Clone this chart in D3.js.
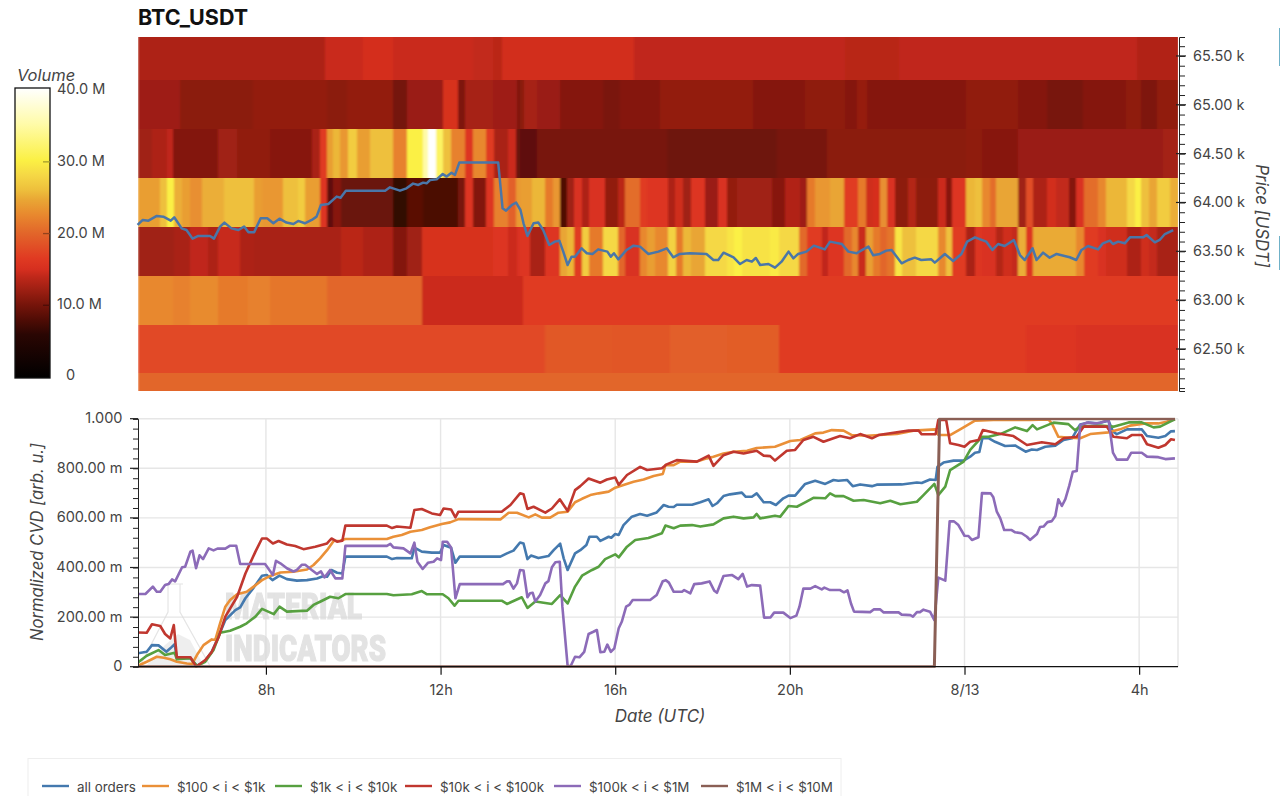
<!DOCTYPE html>
<html>
<head>
<meta charset="utf-8">
<script src="https://cdn.jsdelivr.net/npm/d3@7"></script>
<style>
html, body { margin: 0; padding: 0; background: #fff; overflow: hidden; }
text { font-family: Inter, Roboto, sans-serif; }
</style>
</head>
<body>
<div id="chart"></div>
<script>
// [hour since 8/12 00:00, volume in M] - each pair starts a run that lasts till the next one
const row65500 = [[5.07,13],[9.35,14.4],[10.23,14.9],[10.92,14.4],[12.75,14.1],[13.21,13.7],[13.4,14.8],[16.42,14],[21.26,13.6],[22.5,14],[27.94,13.2]];
const row65000 = [[5.07,12.2],[6.03,11.2],[7.71,11.6],[9.39,11.2],[9.85,11.6],[10.92,10],[11.22,12],[12.06,15.2],[12.4,10.5],[12.56,12.6],[13.21,12.2],[13.74,10.6],[13.82,11.2],[13.9,12.6],[14.2,12],[14.74,10.9],[15.73,10.3],[16.11,10.9],[17.03,11.6],[19.16,10.9],[20.35,11.4],[21.26,10.9],[21.53,11.8],[21.76,10.9],[24.04,11.5],[25.23,10.9],[25.88,10.2],[26.72,10.9],[27.71,11.4],[28.05,10.5],[28.4,11.5]];
const row64500 = [[5.07,12.3],[5.38,13],[5.73,14],[5.88,10.8],[6.91,12.3],[7.33,11.5],[8.09,11],[9.05,12.8],[9.24,16.5],[9.39,24],[9.54,25.5],[9.69,23.5],[9.89,27],[10.08,24],[10.38,26],[10.92,22],[11.22,30],[11.59,35],[11.72,40],[11.89,31.5],[12.06,26],[12.23,22],[12.56,16],[12.75,22.5],[13.05,16.5],[13.22,12.8],[13.55,14.5],[13.73,9.5],[13.82,8.8],[14.2,10.2],[17.18,9.7],[19.7,10.2],[20.84,11.2],[24.04,11.4],[24.39,11],[25.23,12],[28.55,12.5]];
const row64000 = [[5.07,24],[5.57,26],[5.73,30],[5.9,25],[6.07,24],[6.26,23],[6.53,25],[7.05,26],[7.73,24],[7.9,23.5],[8.4,26],[8.74,27],[8.89,24],[9.24,16],[9.39,8.8],[9.54,11],[9.73,9.5],[10.92,6.5],[11.22,8.6],[11.59,7.8],[12.4,10.2],[12.56,16],[12.75,10.8],[13.05,16],[13.22,22],[13.55,19.5],[13.73,23.5],[13.82,24],[14.09,25.5],[14.39,21.5],[14.57,23.5],[14.74,8],[14.9,12.3],[15.06,15.4],[15.23,13],[15.4,15.5],[15.77,11.5],[16.07,13.7],[16.22,20.5],[16.57,16.5],[16.72,16],[17.22,13],[17.37,14.7],[17.56,12.3],[17.73,16],[18.06,12],[18.36,15.4],[18.55,11.6],[18.8,12.3],[19.58,11],[19.89,13.2],[20.23,12.2],[20.4,21.5],[20.58,23.5],[20.92,24.5],[21.24,16.5],[21.57,21.5],[21.74,14.7],[21.91,15],[22.06,23],[22.23,15.5],[22.4,11.3],[22.71,13.3],[22.88,11.3],[23.4,14.5],[23.57,11],[23.72,16],[24.04,25.5],[24.24,26],[24.39,22.5],[24.58,20.5],[24.73,24.5],[25.23,12.3],[25.4,18],[25.57,13],[25.88,14.8],[26.1,14.1],[26.4,10.9],[26.56,15.5],[26.73,20.5],[27.06,22.5],[27.23,25.5],[27.72,28],[27.9,30],[28.05,26],[28.23,24.5],[28.4,27],[28.7,25]];
const row63500 = [[5.07,12.3],[5.9,12.8],[6.26,14],[6.68,13],[6.91,14.3],[7.4,13],[7.73,12.8],[9.73,13.7],[10.23,13],[10.92,10.8],[11.22,12.3],[11.58,15.2],[13.21,16],[13.55,14.5],[13.74,15.4],[13.82,16],[14.05,12.8],[14.39,16],[14.74,24.5],[14.9,25.5],[15.06,16.5],[15.23,27],[15.4,21.5],[15.73,28],[16.07,20],[16.22,15.5],[16.57,22.5],[16.72,24],[16.91,22.5],[17.22,27.5],[17.39,21.5],[17.56,25.5],[17.73,24.5],[18.06,28],[18.55,29],[18.72,30],[18.9,28.8],[19.55,29.5],[19.74,28],[20.22,20.2],[20.4,16.5],[20.73,14],[20.88,16],[21.24,20.2],[21.42,22.5],[21.57,14.4],[21.74,24],[21.91,21.5],[22.06,20],[22.23,21],[22.4,29],[22.56,26],[22.88,28],[23.4,22.5],[23.57,26],[23.72,16.5],[24.04,12.8],[24.24,16],[24.39,15.5],[24.73,13.3],[24.88,14.7],[25.08,14.2],[25.23,25],[25.4,16],[25.57,24.8],[26.56,22.5],[26.73,16.5],[27.06,15.5],[27.23,14.7],[27.72,13],[28.05,14.7],[28.23,14.2],[28.4,12.7]];
const row63000 = [[5.07,22.5],[5.88,22],[6.26,22.7],[6.91,21.5],[7.6,22],[8.09,21.2],[9.39,20],[11.58,14.5],[13.89,16.5]];
const row62500 = [[5.07,17.8],[14.39,19],[15.92,18.8],[17.25,19.4],[18.55,19.3],[19.74,16.5],[25.42,16],[26.56,15.5]];
const row62000 = [[5.07,20]];
const heatRows = [row65500, row65000, row64500, row64000, row63500, row63000, row62500, row62000];
const heatEdges = [65694, 65250, 64750, 64250, 63750, 63250, 62750, 62250, 62070];

// price line [hour, price]
const priceLine = [[5.06,63770],[5.18,63821],[5.31,63814],[5.5,63862],[5.65,63855],[5.82,63814],[5.9,63848],[6.07,63735],[6.18,63718],[6.32,63630],[6.45,63657],[6.72,63657],[6.81,63630],[6.95,63753],[7.05,63794],[7.21,63735],[7.37,63718],[7.5,63753],[7.6,63695],[7.73,63695],[7.88,63838],[8.03,63838],[8.17,63787],[8.31,63834],[8.47,63794],[8.63,63780],[8.74,63811],[8.89,63787],[9.05,63821],[9.16,63855],[9.26,63974],[9.43,63985],[9.62,64060],[9.71,64049],[9.83,64121],[10.73,64121],[10.84,64155],[11.07,64121],[11.22,64145],[11.37,64193],[11.49,64179],[11.6,64203],[11.68,64196],[11.76,64230],[11.91,64237],[12.05,64292],[12.14,64265],[12.25,64305],[12.33,64282],[12.43,64408],[13.32,64408],[13.42,63940],[13.5,63916],[13.63,63974],[13.73,63998],[13.83,63923],[13.9,63787],[13.99,63657],[14.13,63787],[14.24,63794],[14.35,63718],[14.49,63565],[14.62,63599],[14.72,63609],[14.81,63497],[14.91,63360],[15,63445],[15.08,63445],[15.23,63531],[15.35,63480],[15.48,63473],[15.61,63520],[15.82,63497],[15.9,63445],[15.97,63480],[16.07,63418],[16.26,63514],[16.42,63558],[16.57,63548],[16.76,63473],[16.99,63497],[17.18,63531],[17.33,63439],[17.48,63473],[17.71,63480],[18.09,63473],[18.25,63411],[18.36,63411],[18.48,63486],[18.71,63439],[18.86,63370],[19.01,63411],[19.13,63394],[19.22,63432],[19.32,63360],[19.51,63370],[19.66,63333],[19.81,63394],[19.97,63497],[20.08,63428],[20.19,63473],[20.38,63497],[20.55,63558],[20.8,63520],[20.92,63599],[21.19,63575],[21.34,63497],[21.53,63480],[21.68,63520],[21.8,63548],[21.91,63459],[22.06,63473],[22.21,63507],[22.33,63514],[22.56,63377],[22.71,63411],[22.86,63435],[23.01,63411],[23.24,63418],[23.32,63384],[23.55,63473],[23.74,63401],[23.93,63473],[24.06,63599],[24.24,63643],[24.5,63599],[24.64,63514],[24.77,63575],[24.92,63555],[25.13,63616],[25.27,63462],[25.38,63411],[25.56,63531],[25.65,63411],[25.8,63486],[25.95,63435],[26.11,63473],[26.41,63439],[26.56,63411],[26.68,63514],[26.83,63555],[27.06,63520],[27.17,63582],[27.33,63609],[27.4,63575],[27.52,63599],[27.67,63582],[27.79,63643],[28.09,63643],[28.17,63667],[28.36,63592],[28.47,63616],[28.59,63677],[28.78,63718]];

// normalized CVD [hour, value]
const allOrders = [[5.07,.054],[5.27,.06],[5.39,.087],[5.54,.086],[5.72,.06],[5.81,.074],[5.91,.091],[5.96,.034],[6.27,.035],[6.42,.003],[6.61,.024],[6.76,.06],[6.88,.108],[7.07,.188],[7.3,.228],[7.41,.239],[7.53,.276],[7.72,.319],[7.91,.367],[8.02,.37],[8.15,.349],[8.31,.367],[8.48,.353],[8.71,.347],[8.94,.349],[9.17,.356],[9.32,.366],[9.4,.363],[9.5,.39],[9.63,.379],[9.75,.376],[9.82,.444],[10.77,.444],[10.89,.434],[11,.438],[11.34,.437],[11.4,.48],[11.57,.464],[11.8,.46],[11.99,.46],[12.07,.491],[12.24,.48],[12.34,.419],[12.44,.444],[13.37,.444],[13.52,.457],[13.67,.468],[13.82,.501],[13.9,.497],[13.99,.434],[14.07,.448],[14.24,.438],[14.47,.446],[14.59,.47],[14.74,.496],[14.82,.437],[14.91,.39],[15.08,.457],[15.2,.47],[15.34,.491],[15.41,.524],[15.58,.524],[15.66,.507],[15.85,.524],[15.91,.52],[16,.535],[16.08,.531],[16.19,.571],[16.38,.605],[16.57,.616],[16.73,.609],[16.95,.622],[17.11,.652],[17.22,.645],[17.34,.644],[17.41,.653],[17.76,.653],[17.95,.663],[18.14,.675],[18.23,.648],[18.33,.659],[18.48,.688],[18.63,.695],[18.9,.702],[18.99,.685],[19.13,.685],[19.24,.699],[19.4,.663],[19.55,.663],[19.68,.652],[19.85,.679],[19.97,.69],[20.12,.69],[20.35,.737],[20.58,.75],[20.81,.737],[21,.753],[21.11,.75],[21.31,.753],[21.44,.728],[21.61,.735],[21.88,.728],[21.99,.734],[22.56,.735],[22.91,.743],[23.02,.741],[23.21,.755],[23.34,.753],[23.38,.806],[23.52,.823],[23.75,.831],[23.98,.831],[24.13,.847],[24.24,.863],[24.34,.866],[24.41,.921],[24.55,.922],[24.7,.907],[24.93,.89],[25.16,.892],[25.4,.867],[25.54,.876],[25.66,.874],[25.85,.887],[26.08,.891],[26.27,.914],[26.46,.921],[26.65,.977],[26.84,.985],[27.03,.981],[27.3,.992],[27.4,.948],[27.49,.938],[27.72,.957],[28.06,.957],[28.18,.93],[28.44,.923],[28.6,.93],[28.73,.949],[28.82,.95]];
const orders100to1k = [[5.07,.004],[5.27,.02],[5.5,.04],[5.66,.036],[5.81,.03],[5.96,.02],[6.19,.013],[6.31,.011],[6.42,.047],[6.57,.087],[6.76,.11],[6.84,.108],[6.95,.175],[7.07,.242],[7.18,.269],[7.34,.292],[7.56,.302],[7.72,.323],[7.91,.349],[8.1,.366],[8.33,.38],[8.63,.383],[8.94,.392],[9.09,.41],[9.24,.437],[9.4,.47],[9.55,.507],[9.7,.508],[9.82,.515],[10.77,.515],[10.92,.524],[11.11,.531],[11.31,.544],[11.57,.551],[11.76,.562],[12.03,.575],[12.22,.582],[12.41,.595],[13.37,.594],[13.56,.621],[13.75,.621],[14.02,.602],[14.17,.614],[14.32,.601],[14.51,.601],[14.7,.621],[14.91,.625],[15.08,.663],[15.24,.677],[15.43,.692],[15.62,.699],[15.85,.706],[16,.722],[16.19,.733],[16.42,.746],[16.65,.755],[16.88,.769],[17.09,.777],[17.15,.813],[17.34,.813],[17.49,.827],[17.87,.827],[18.1,.84],[18.25,.847],[18.48,.86],[18.71,.867],[19.02,.871],[19.24,.882],[19.66,.887],[20.01,.91],[20.24,.914],[20.58,.941],[20.77,.944],[20.96,.954],[21.23,.952],[21.42,.934],[21.76,.931],[22.45,.938],[22.83,.952],[23.34,.957],[23.4,.934],[23.67,.934],[23.94,.961],[24.24,.992],[24.66,.995],[25.5,.995],[25.92,.997],[26,.981],[26.15,.927],[26.42,.923],[26.65,.921],[26.88,.938],[27.3,.945],[27.56,.957],[27.79,.972],[28.14,.981],[28.44,.981],[28.63,.988],[28.82,.999]];
const orders1kto10k = [[5.07,.017],[5.27,.044],[5.54,.067],[5.69,.047],[5.91,.056],[5.96,.03],[6.27,.034],[6.42,.003],[6.61,.02],[6.8,.067],[6.95,.137],[7.18,.145],[7.41,.161],[7.56,.175],[7.76,.202],[7.91,.233],[8.18,.212],[8.31,.242],[8.48,.222],[8.94,.226],[9.09,.249],[9.24,.262],[9.47,.282],[9.66,.276],[9.82,.293],[10.77,.293],[10.92,.288],[11.34,.292],[11.57,.305],[11.69,.292],[12.05,.292],[12.18,.276],[12.32,.246],[12.41,.266],[13.4,.266],[13.52,.253],[13.86,.28],[13.99,.237],[14.17,.263],[14.36,.258],[14.55,.253],[14.74,.289],[14.91,.255],[15.08,.323],[15.24,.367],[15.47,.39],[15.62,.403],[15.77,.434],[16,.453],[16.08,.441],[16.27,.484],[16.46,.511],[16.76,.519],[17.07,.538],[17.15,.569],[17.34,.558],[17.49,.569],[17.76,.571],[17.95,.565],[18.25,.574],[18.48,.598],[18.71,.605],[18.94,.598],[19.17,.602],[19.24,.616],[19.32,.598],[19.66,.609],[19.78,.605],[19.97,.648],[20.16,.645],[20.35,.663],[20.54,.681],[20.81,.679],[20.92,.699],[21.04,.688],[21.23,.688],[21.46,.669],[21.69,.672],[22.07,.659],[22.3,.669],[22.53,.655],[22.91,.665],[23.06,.692],[23.31,.737],[23.4,.692],[23.56,.726],[23.67,.793],[23.98,.827],[24.13,.874],[24.4,.927],[24.55,.927],[24.82,.938],[25.16,.965],[25.43,.95],[25.56,.974],[25.66,.957],[26.04,.984],[26.38,.978],[26.53,.954],[26.65,.968],[27.11,.972],[27.41,.968],[27.76,.985],[28.06,.985],[28.33,.965],[28.48,.968],[28.71,.988],[28.82,.997]];
const orders10kto100k = [[5.07,.138],[5.27,.137],[5.39,.171],[5.58,.164],[5.69,.132],[5.81,.114],[5.89,.168],[5.96,.038],[6.27,.038],[6.4,0],[6.61,.027],[6.76,.06],[6.92,.121],[7.07,.202],[7.34,.282],[7.53,.376],[7.76,.464],[7.91,.517],[8.02,.517],[8.16,.497],[8.29,.507],[8.48,.493],[8.67,.487],[8.86,.474],[9.13,.484],[9.4,.497],[9.5,.517],[9.63,.504],[9.75,.508],[9.82,.569],[10.77,.569],[10.89,.559],[11,.565],[11.31,.56],[11.4,.632],[11.57,.636],[11.8,.618],[11.99,.612],[12.07,.638],[12.24,.634],[12.34,.602],[12.41,.625],[13.4,.625],[13.6,.652],[13.82,.699],[13.9,.695],[13.99,.636],[14.13,.645],[14.4,.621],[14.55,.638],[14.73,.675],[14.91,.628],[15.08,.712],[15.2,.728],[15.39,.759],[15.66,.742],[15.81,.755],[16,.763],[16.08,.733],[16.27,.773],[16.57,.806],[16.73,.793],[17.07,.8],[17.18,.816],[17.41,.833],[17.87,.827],[18.14,.851],[18.25,.81],[18.48,.853],[18.71,.867],[18.94,.86],[19.24,.871],[19.4,.851],[19.55,.849],[19.66,.831],[19.93,.871],[20.12,.874],[20.31,.914],[20.54,.927],[20.77,.907],[21,.921],[21.15,.93],[21.38,.921],[21.61,.938],[21.88,.921],[22.03,.934],[22.72,.952],[22.95,.952],[23.02,.937],[23.34,.938],[23.4,.995],[23.58,.995],[23.67,.901],[23.86,.894],[24,.887],[24.13,.907],[24.32,.914],[24.42,.954],[24.74,.941],[25.12,.93],[25.43,.894],[25.77,.905],[26.08,.897],[26.27,.921],[26.57,.927],[26.73,.968],[27.26,.968],[27.41,.927],[27.72,.921],[27.83,.934],[28.06,.934],[28.18,.897],[28.44,.883],[28.6,.894],[28.73,.917],[28.82,.914]];
const orders100kto1M = [[5.07,.293],[5.24,.293],[5.41,.323],[5.5,.302],[5.58,.302],[5.69,.329],[5.77,.333],[5.85,.352],[5.92,.344],[6.08,.401],[6.15,.403],[6.27,.464],[6.32,.468],[6.4,.397],[6.48,.449],[6.56,.434],[6.69,.477],[6.8,.469],[6.89,.476],[7.07,.476],[7.18,.488],[7.32,.488],[7.41,.414],[7.98,.414],[8.16,.37],[8.23,.427],[8.33,.417],[8.48,.397],[8.63,.384],[8.71,.39],[8.82,.411],[8.9,.411],[9.05,.39],[9.17,.374],[9.26,.384],[9.34,.36],[9.47,.39],[9.59,.356],[9.75,.356],[9.82,.487],[10.77,.487],[10.85,.495],[10.92,.481],[11.15,.477],[11.31,.457],[11.4,.5],[11.47,.423],[11.59,.394],[11.71,.419],[11.84,.423],[11.92,.437],[12.01,.43],[12.05,.504],[12.15,.504],[12.24,.481],[12.34,.276],[12.44,.333],[13.43,.333],[13.52,.344],[13.58,.344],[13.67,.315],[13.75,.336],[13.82,.39],[13.9,.388],[13.99,.28],[14.05,.296],[14.11,.298],[14.17,.263],[14.28,.289],[14.4,.336],[14.47,.345],[14.55,.401],[14.63,.421],[14.73,.423],[14.79,.242],[14.91,.003],[14.98,.003],[15.08,.04],[15.18,.038],[15.29,.06],[15.39,.132],[15.5,.141],[15.58,.148],[15.66,.058],[15.75,.06],[15.82,.089],[15.9,.06],[15.98,.074],[16.08,.155],[16.15,.181],[16.25,.242],[16.32,.249],[16.4,.269],[16.8,.269],[16.95,.289],[17.09,.345],[17.16,.349],[17.23,.339],[17.34,.302],[17.53,.302],[17.58,.309],[17.72,.296],[17.81,.333],[17.98,.336],[18.16,.344],[18.27,.306],[18.33,.298],[18.48,.366],[18.67,.37],[18.82,.353],[18.92,.374],[19.02,.323],[19.13,.329],[19.32,.327],[19.41,.198],[19.56,.199],[19.64,.218],[19.85,.218],[20.01,.196],[20.15,.206],[20.22,.242],[20.31,.315],[20.47,.315],[20.58,.325],[20.73,.312],[20.79,.319],[20.92,.309],[21.15,.309],[21.24,.3],[21.32,.308],[21.4,.255],[21.47,.222],[21.84,.22],[21.92,.231],[22.07,.231],[22.15,.219],[22.49,.219],[22.56,.21],[22.76,.208],[22.82,.202],[22.91,.22],[22.98,.22],[23.06,.23],[23.21,.222],[23.31,.188],[23.4,.359],[23.56,.347],[23.66,.586],[23.76,.586],[23.86,.571],[24,.528],[24.09,.527],[24.17,.511],[24.32,.522],[24.4,.7],[24.6,.699],[24.66,.683],[24.74,.625],[24.82,.598],[24.91,.551],[25.08,.551],[25.16,.542],[25.31,.538],[25.43,.524],[25.5,.511],[25.66,.535],[25.73,.563],[25.81,.565],[25.9,.583],[26,.587],[26.08,.608],[26.15,.675],[26.23,.648],[26.31,.676],[26.4,.73],[26.48,.786],[26.57,.789],[26.65,.974],[26.8,.984],[26.99,.981],[27.11,.984],[27.3,.995],[27.4,.863],[27.49,.835],[27.73,.835],[27.82,.863],[28.06,.863],[28.18,.847],[28.44,.845],[28.6,.837],[28.82,.84]];
const orders1Mto10M = [[5.07,0],[23.31,0],[23.43,1],[28.82,1]];

const seriesNames = ['all orders', '$100 < i < $1k', '$1k < i < $10k', '$10k < i < $100k', '$100k < i < $1M', '$1M < i < $10M'];
const seriesData = [allOrders, orders100to1k, orders1kto10k, orders10kto100k, orders100kto1M, orders1Mto10M];
const seriesColors = ['#4479ae', '#ea9038', '#57a040', '#c0372f', '#8c6bb8', '#8a5f55'];

const hourTicks = [8, 12, 16, 20, 24, 28];
const hourLabels = ['8h', '12h', '16h', '20h', '8/13', '4h'];
const priceTicks = [62500, 63000, 63500, 64000, 64500, 65000, 65500];
const cvdTicks = [0, .2, .4, .6, .8, 1];
const cvdLabels = ['0', '200.00 m', '400.00 m', '600.00 m', '800.00 m', '1.000'];
const volumeTicks = [0, 10, 20, 30, 40];
const volumeLabels = ['0', '10.0 M', '20.0 M', '30.0 M', '40.0 M'];

const colorStops = [0, 6, 8, 10, 12.3, 14, 15, 16.5, 20, 22.5, 24.5, 26, 28, 30, 35, 40];
const colorValues = ['#000000', '#2a0603', '#4f0c05', '#74140a', '#a02013', '#c0281a', '#d62f1f', '#e03a22', '#e2662a', '#e8882e', '#e9a534', '#eec03c', '#f5d845', '#fbf044', '#fffba8', '#ffffff'];
const volColor = d3.scaleLinear().domain(colorStops).range(colorValues);

const svg = d3.select('#chart').append('svg').attr('width', 1280).attr('height', 796).style('display', 'block');
const defs = svg.append('defs');

const x = d3.scaleLinear().domain([5.07, 28.89]).range([138, 1178]);
const yPrice = d3.scaleLinear().domain([62070, 65694]).range([391, 37]);
const yCvd = d3.scaleLinear().domain([0, 1]).range([666.7, 418.7]);
const yVol = d3.scaleLinear().domain([0, 40.3]).range([377, 88]);

// title
svg.append('text').attr('x', 138).attr('y', 25).style('font-size', '21.5px').style('font-weight', 700).style('fill', '#111').text('BTC_USDT');

// heatmap, slightly soft like the reference
const soft = defs.append('filter').attr('id', 'soft').attr('filterUnits', 'userSpaceOnUse')
	.attr('x', 130).attr('y', 30).attr('width', 1056).attr('height', 368);
soft.append('feGaussianBlur').attr('stdDeviation', '.9 .4').attr('edgeMode', 'duplicate');
defs.append('clipPath').attr('id', 'heatClip').append('rect').attr('x', 138).attr('y', 37).attr('width', 1040).attr('height', 354);
const heat = svg.append('g').attr('clip-path', 'url(#heatClip)').append('g').attr('filter', 'url(#soft)').attr('shape-rendering', 'crispEdges');
heatRows.forEach((row, i) => {
	heat.append('g').selectAll('rect').data(row).enter().append('rect')
		.attr('x', d => x(d[0]))
		.attr('width', (d, j) => (j < row.length - 1 ? x(row[j + 1][0]) : x(28.89)) - x(d[0]) + .5)
		.attr('y', yPrice(heatEdges[i]))
		.attr('height', yPrice(heatEdges[i + 1]) - yPrice(heatEdges[i]) + .5)
		.attr('fill', d => volColor(d[1]));
});

svg.append('path').datum(priceLine)
	.attr('d', d3.line().x(d => x(d[0])).y(d => yPrice(d[1])))
	.attr('fill', 'none').attr('stroke', '#4a76a8').attr('stroke-width', 2.5).attr('stroke-linejoin', 'round');

// price axis, 100 USDT minor ticks
const priceAxis = svg.append('g').attr('transform', 'translate(1179,0)');
priceAxis.call(d3.axisRight(yPrice).tickValues(d3.range(62100, 65700, 100)).tickSize(6).tickFormat(''));
priceAxis.selectAll('path,line').attr('stroke', '#222').attr('stroke-width', 1);
priceAxis.selectAll('.major').data(priceTicks).enter().append('line').attr('class', 'major')
	.attr('x1', -3).attr('x2', 7).attr('y1', d => yPrice(d)).attr('y2', d => yPrice(d)).attr('stroke', '#222').attr('stroke-width', 1.2);
priceAxis.selectAll('.lab').data(priceTicks).enter().append('text').attr('class', 'lab')
	.attr('x', 14).attr('y', d => yPrice(d) + 5)
	.style('font-size', '14.5px').style('fill', '#444').text(d => d3.format('.2f')(d / 1000) + ' k');
svg.append('text').attr('transform', 'translate(1256,216) rotate(90)').attr('text-anchor', 'middle')
	.style('font-size', '16.8px').style('font-style', 'italic').style('fill', '#444').text('Price [USDT]');

// colour bar
const barGrad = defs.append('linearGradient').attr('id', 'barGrad').attr('x1', 0).attr('x2', 0).attr('y1', 1).attr('y2', 0);
barGrad.selectAll('stop').data(colorStops).enter().append('stop')
	.attr('offset', d => d / 40).attr('stop-color', d => volColor(d));
svg.append('rect').attr('x', 15).attr('y', 88).attr('width', 35).attr('height', 290).attr('fill', 'url(#barGrad)').attr('stroke', '#111').attr('stroke-width', 1.3);
svg.append('g').selectAll('line').data(volumeTicks.slice(1, 4)).enter().append('line')
	.attr('x1', 43).attr('x2', 50).attr('y1', d => yVol(d)).attr('y2', d => yVol(d))
	.attr('stroke', d => d3.color(volColor(d)).darker(1.2)).attr('stroke-width', 1.3);
svg.append('g').selectAll('text').data(volumeTicks).enter().append('text')
	.attr('x', d => d === 0 ? 66 : 57).attr('y', d => d === 0 ? 380 : yVol(d) + 4)
	.style('font-size', '14.5px').style('fill', '#444').text((d, i) => volumeLabels[i]);
svg.append('text').attr('x', 17).attr('y', 81).style('font-size', '16.5px').style('font-style', 'italic').style('fill', '#444').text('Volume');

// CVD grid
const grid = svg.append('g').attr('stroke', '#e6e6e6').attr('stroke-width', 1.4);
grid.selectAll('.gy').data(cvdTicks.slice(1)).enter().append('line').attr('class', 'gy')
	.attr('x1', x.range()[0]).attr('x2', x.range()[1]).attr('y1', d => yCvd(d)).attr('y2', d => yCvd(d));
grid.selectAll('.gx').data(hourTicks).enter().append('line').attr('class', 'gx')
	.attr('x1', d => x(d)).attr('x2', d => x(d)).attr('y1', yCvd(1)).attr('y2', yCvd(0));
grid.append('line').attr('x1', 1178).attr('x2', 1178).attr('y1', yCvd(1)).attr('y2', yCvd(0));

// watermark
const mark = svg.append('g').attr('opacity', .75);
mark.append('path').attr('d', 'M165 584H183M168 584V612L140 666H210L180 612V584')
	.attr('fill', 'none').attr('stroke', '#dcdcdc').attr('stroke-width', 1.2);
mark.append('path').attr('d', 'M146 666L165 645L178 634L190 640L204 666Z').attr('fill', '#e9e9e9');
[['MATERIAL', 619, 137], ['INDICATORS', 661, 161]].forEach(m => {
	mark.append('text').attr('x', 225).attr('y', m[1]).attr('textLength', m[2]).attr('lengthAdjust', 'spacingAndGlyphs')
		.style('font-family', 'Roboto').style('font-size', '36px').style('font-weight', 900)
		.style('fill', '#dadada').style('stroke', '#dadada').style('stroke-width', 1.2).text(m[0]);
});

// CVD lines, cut at the top of the plot
defs.append('clipPath').attr('id', 'cvdClip').append('rect').attr('x', 138).attr('y', 417.8).attr('width', 1040).attr('height', 250);
svg.append('g').attr('clip-path', 'url(#cvdClip)').selectAll('path').data(seriesData).enter().append('path')
	.attr('d', d3.line().x(d => x(d[0])).y(d => yCvd(d[1]))).attr('fill', 'none')
	.attr('stroke', (d, i) => seriesColors[i]).attr('stroke-width', (d, i) => i === 5 ? 3 : 2.6).attr('stroke-linejoin', 'round');

// CVD axes
const leftAxis = svg.append('g').attr('transform', 'translate(138,0)');
leftAxis.call(d3.axisLeft(yCvd).tickValues(d3.range(0, 1.001, .04)).tickSize(5).tickFormat(''));
leftAxis.selectAll('path,line').attr('stroke', '#222').attr('stroke-width', 1);
leftAxis.selectAll('.major').data(cvdTicks).enter().append('line').attr('class', 'major')
	.attr('x1', -8).attr('x2', 0).attr('y1', d => yCvd(d)).attr('y2', d => yCvd(d)).attr('stroke', '#222').attr('stroke-width', 1.2);
leftAxis.selectAll('.lab').data(cvdTicks).enter().append('text').attr('class', 'lab')
	.attr('x', -15.5).attr('y', d => yCvd(d) + 4.5).attr('text-anchor', 'end')
	.style('font-size', '14.5px').style('fill', '#444').text((d, i) => cvdLabels[i]);

const bottomAxis = svg.append('g').attr('transform', 'translate(0,666.7)');
bottomAxis.call(d3.axisBottom(x).tickValues(hourTicks).tickSize(8).tickFormat((d, i) => hourLabels[i]));
bottomAxis.selectAll('path,line').attr('stroke', '#111').attr('stroke-width', 1.2);
bottomAxis.select('.domain').attr('d', 'M138,0H1178');
bottomAxis.selectAll('text').attr('dy', null).attr('y', 28).style('font-size', '14.5px').style('fill', '#444').style('font-family', 'Inter');

svg.append('text').attr('transform', 'translate(43,542) rotate(-90)').attr('text-anchor', 'middle')
	.style('font-size', '16.6px').style('font-style', 'italic').style('fill', '#444').text('Normalized CVD [arb. u.]');
svg.append('text').attr('x', 660).attr('y', 722).attr('text-anchor', 'middle')
	.style('font-size', '17px').style('font-style', 'italic').style('fill', '#444').text('Date (UTC)');

// legend
svg.append('rect').attr('x', 28).attr('y', 758.5).attr('width', 813).attr('height', 60).attr('fill', '#fff').attr('stroke', '#eeeeee');
const legendX = [42, 142, 275, 405, 554, 701];
const legendItems = svg.append('g').selectAll('g').data(seriesNames).enter().append('g')
	.attr('transform', (d, i) => `translate(${legendX[i]},786)`);
legendItems.append('line').attr('x1', 0).attr('x2', 27).attr('stroke', (d, i) => seriesColors[i]).attr('stroke-width', 2.4);
legendItems.append('text').attr('x', 35).attr('y', 5.5).style('font-size', '13.4px').style('fill', '#444').text(d => d);

// bits of the next panel at the window edge
svg.append('g').selectAll('line').data([[28, 66], [236, 270]]).enter().append('line')
	.attr('x1', 1279.5).attr('x2', 1279.5).attr('y1', d => d[0]).attr('y2', d => d[1]).attr('stroke', '#6fb1c8');
</script>
</body>
</html>
